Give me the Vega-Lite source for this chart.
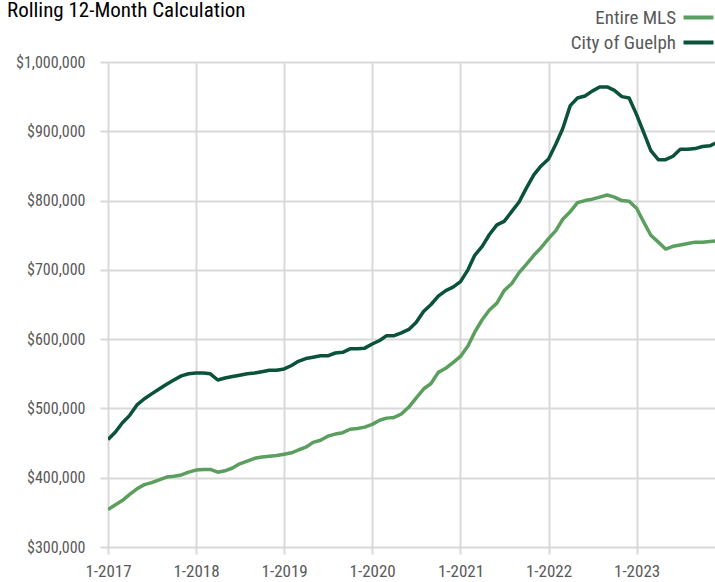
{
  "$schema": "https://vega.github.io/schema/vega-lite/v6.json",
  "autosize": "none",
  "width": 607,
  "height": 485,
  "padding": {"left": 108, "top": 62, "right": 0, "bottom": 35},
  "background": "white",
  "title": {
    "text": "Rolling 12-Month Calculation",
    "anchor": "start",
    "frame": "group",
    "dx": -101,
    "dy": 17,
    "fontSize": 21,
    "fontWeight": "normal",
    "color": "#000000",
    "font": "'Liberation Sans Narrow', 'Roboto Condensed', Roboto, sans-serif"
  },
  "config": {
    "font": "'Liberation Sans Narrow', 'Roboto Condensed', Roboto, sans-serif",
    "view": {"stroke": null},
    "axis": {
      "domain": false,
      "grid": true,
      "gridColor": "#d9d9d9",
      "gridWidth": 2,
      "tickColor": "#d9d9d9",
      "tickWidth": 2,
      "labelColor": "#595959",
      "labelFontSize": 16,
      "title": null
    }
  },
  "data": {
    "values": [
      {"date": "2017/01/01", "mls": 354, "guelph": 455},
      {"date": "2017/02/01", "mls": 361, "guelph": 466},
      {"date": "2017/03/01", "mls": 367, "guelph": 479},
      {"date": "2017/04/01", "mls": 376, "guelph": 490},
      {"date": "2017/05/01", "mls": 384, "guelph": 505},
      {"date": "2017/06/01", "mls": 390, "guelph": 514},
      {"date": "2017/07/01", "mls": 393, "guelph": 521},
      {"date": "2017/08/01", "mls": 397, "guelph": 528},
      {"date": "2017/09/01", "mls": 401, "guelph": 535},
      {"date": "2017/10/01", "mls": 402, "guelph": 541},
      {"date": "2017/11/01", "mls": 404, "guelph": 547},
      {"date": "2017/12/01", "mls": 408, "guelph": 550},
      {"date": "2018/01/01", "mls": 411, "guelph": 551},
      {"date": "2018/02/01", "mls": 412, "guelph": 551},
      {"date": "2018/03/01", "mls": 412, "guelph": 550},
      {"date": "2018/04/01", "mls": 408, "guelph": 541},
      {"date": "2018/05/01", "mls": 410, "guelph": 544},
      {"date": "2018/06/01", "mls": 414, "guelph": 546},
      {"date": "2018/07/01", "mls": 420, "guelph": 548},
      {"date": "2018/08/01", "mls": 424, "guelph": 550},
      {"date": "2018/09/01", "mls": 428, "guelph": 551},
      {"date": "2018/10/01", "mls": 430, "guelph": 553},
      {"date": "2018/11/01", "mls": 431, "guelph": 555},
      {"date": "2018/12/01", "mls": 432, "guelph": 555},
      {"date": "2019/01/01", "mls": 434, "guelph": 557},
      {"date": "2019/02/01", "mls": 436, "guelph": 562},
      {"date": "2019/03/01", "mls": 440, "guelph": 568},
      {"date": "2019/04/01", "mls": 444, "guelph": 572},
      {"date": "2019/05/01", "mls": 451, "guelph": 574},
      {"date": "2019/06/01", "mls": 454, "guelph": 576},
      {"date": "2019/07/01", "mls": 460, "guelph": 576},
      {"date": "2019/08/01", "mls": 463, "guelph": 580},
      {"date": "2019/09/01", "mls": 465, "guelph": 581},
      {"date": "2019/10/01", "mls": 470, "guelph": 586},
      {"date": "2019/11/01", "mls": 471, "guelph": 586},
      {"date": "2019/12/01", "mls": 473, "guelph": 587},
      {"date": "2020/01/01", "mls": 477, "guelph": 593},
      {"date": "2020/02/01", "mls": 483, "guelph": 598},
      {"date": "2020/03/01", "mls": 486, "guelph": 605},
      {"date": "2020/04/01", "mls": 487, "guelph": 605},
      {"date": "2020/05/01", "mls": 492, "guelph": 609},
      {"date": "2020/06/01", "mls": 502, "guelph": 614},
      {"date": "2020/07/01", "mls": 515, "guelph": 624},
      {"date": "2020/08/01", "mls": 528, "guelph": 640},
      {"date": "2020/09/01", "mls": 536, "guelph": 650},
      {"date": "2020/10/01", "mls": 552, "guelph": 662},
      {"date": "2020/11/01", "mls": 558, "guelph": 670},
      {"date": "2020/12/01", "mls": 566, "guelph": 675},
      {"date": "2021/01/01", "mls": 575, "guelph": 683},
      {"date": "2021/02/01", "mls": 590, "guelph": 700},
      {"date": "2021/03/01", "mls": 610, "guelph": 721},
      {"date": "2021/04/01", "mls": 628, "guelph": 734},
      {"date": "2021/05/01", "mls": 642, "guelph": 751},
      {"date": "2021/06/01", "mls": 652, "guelph": 765},
      {"date": "2021/07/01", "mls": 670, "guelph": 770},
      {"date": "2021/08/01", "mls": 680, "guelph": 784},
      {"date": "2021/09/01", "mls": 696, "guelph": 798},
      {"date": "2021/10/01", "mls": 708, "guelph": 818},
      {"date": "2021/11/01", "mls": 721, "guelph": 837},
      {"date": "2021/12/01", "mls": 732, "guelph": 850},
      {"date": "2022/01/01", "mls": 745, "guelph": 860},
      {"date": "2022/02/01", "mls": 757, "guelph": 882},
      {"date": "2022/03/01", "mls": 773, "guelph": 904},
      {"date": "2022/04/01", "mls": 784, "guelph": 937},
      {"date": "2022/05/01", "mls": 797, "guelph": 948},
      {"date": "2022/06/01", "mls": 800, "guelph": 951},
      {"date": "2022/07/01", "mls": 802, "guelph": 958},
      {"date": "2022/08/01", "mls": 805, "guelph": 964},
      {"date": "2022/09/01", "mls": 808, "guelph": 964},
      {"date": "2022/10/01", "mls": 805, "guelph": 959},
      {"date": "2022/11/01", "mls": 800, "guelph": 950},
      {"date": "2022/12/01", "mls": 799, "guelph": 948},
      {"date": "2023/01/01", "mls": 789, "guelph": 924},
      {"date": "2023/02/01", "mls": 768, "guelph": 897},
      {"date": "2023/03/01", "mls": 750, "guelph": 872},
      {"date": "2023/04/01", "mls": 740, "guelph": 859},
      {"date": "2023/05/01", "mls": 730, "guelph": 859},
      {"date": "2023/06/01", "mls": 734, "guelph": 864},
      {"date": "2023/07/01", "mls": 736, "guelph": 874},
      {"date": "2023/08/01", "mls": 738, "guelph": 874},
      {"date": "2023/09/01", "mls": 740, "guelph": 875},
      {"date": "2023/10/01", "mls": 740, "guelph": 878},
      {"date": "2023/11/01", "mls": 741, "guelph": 879},
      {"date": "2023/12/01", "mls": 742, "guelph": 884}
    ]
  },
  "transform": [
    {"fold": ["mls", "guelph"], "as": ["key", "k"]},
    {"calculate": "datum.key === 'mls' ? 'Entire MLS' : 'City of Guelph'", "as": "series"},
    {"calculate": "datum.k * 1000", "as": "value"}
  ],
  "mark": {"type": "line", "strokeWidth": 3.5, "clip": true, "strokeJoin": "round"},
  "encoding": {
    "x": {
      "field": "date",
      "type": "temporal",
      "scale": {"domain": [{"year": 2017, "month": 1, "date": 1}, {"year": 2023, "month": 11, "date": 22}]},
      "axis": {
        "values": [
          {"year": 2017, "month": 1, "date": 1},
          {"year": 2018, "month": 1, "date": 1},
          {"year": 2019, "month": 1, "date": 1},
          {"year": 2020, "month": 1, "date": 1},
          {"year": 2021, "month": 1, "date": 1},
          {"year": 2022, "month": 1, "date": 1},
          {"year": 2023, "month": 1, "date": 1}
        ],
        "format": "%-m-%Y",
        "tickSize": 7,
        "labelPadding": 9,
        "labelFontSize": 17,
        "labelFlush": false
      }
    },
    "y": {
      "field": "value",
      "type": "quantitative",
      "scale": {"domain": [300000, 1000000], "nice": false, "zero": false},
      "axis": {
        "values": [300000, 400000, 500000, 600000, 700000, 800000, 900000, 1000000],
        "format": "$,.0f",
        "tickSize": 8,
        "labelPadding": 15
      }
    },
    "color": {
      "field": "series",
      "type": "nominal",
      "sort": ["Entire MLS", "City of Guelph"],
      "scale": {"domain": ["Entire MLS", "City of Guelph"], "range": ["#5b9f5f", "#0a5239"]},
      "legend": {
        "orient": "none",
        "legendX": 581,
        "legendY": -54,
        "padding": 0,
        "title": null,
        "symbolType": "M-3,0H3",
        "symbolSize": 100,
        "symbolStrokeWidth": 4,
        "labelAlign": "right",
        "labelOffset": -32,
        "labelFontSize": 19,
        "labelColor": "#595959",
        "rowPadding": 5,
        "labelLimit": 300
      }
    }
  }
}
